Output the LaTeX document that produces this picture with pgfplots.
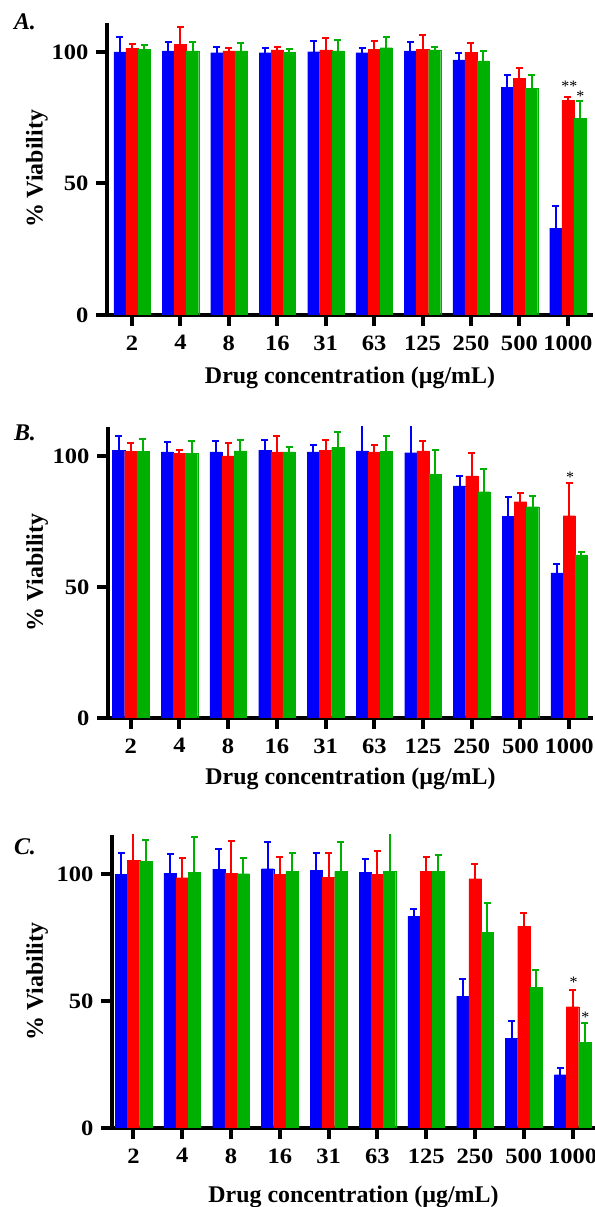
\documentclass[border=0pt]{standalone}
\usepackage{fontspec}
\setmainfont{Liberation Serif}
\newfontfamily\tickfont[FakeStretch=1.12]{Liberation Serif}
\usepackage{pgfplots}
\usepackage{pgfplotstable}
\pgfplotsset{compat=1.18}
\definecolor{cb}{RGB}{0,0,250}
\definecolor{cr}{RGB}{255,0,0}
\definecolor{cg}{RGB}{0,176,0}

\pgfplotstableread{
x b eb r er g eg
1 100.0 5.8 101.4 1.5 101.0 1.7
2 100.4 3.5 102.9 6.7 100.4 3.5
3 99.7 2.3 100.4 1.2 100.4 2.9
4 99.7 1.7 100.8 1.2 99.9 1.4
5 100.1 4.1 100.8 4.4 100.4 4.2
6 99.7 1.7 101.0 3.2 101.6 4.0
7 100.4 3.3 101.1 5.2 100.8 1.2
8 97.0 2.5 99.9 3.6 96.6 3.8
9 86.6 4.5 89.9 3.9 86.2 4.9
10 33.0 8.4 81.7 1.1 74.8 6.6
}\dataA

\pgfplotstableread{
x b eb r er g eg
1 102.2 5.3 101.8 3.2 101.8 4.8
2 101.5 3.8 100.9 1.5 100.9 4.7
3 101.5 4.1 100.0 5.0 101.9 4.3
4 102.2 3.8 101.5 6.0 101.5 1.9
5 101.5 2.8 102.2 4.0 103.2 5.9
6 101.9 12.0 101.5 2.8 101.8 5.8
7 101.2 12.0 101.9 3.8 92.9 9.3
8 88.5 3.9 92.4 8.5 86.3 8.5
9 77.0 7.4 82.5 3.5 80.6 4.2
10 55.4 3.4 77.2 12.5 62.2 1.2
}\dataB

\pgfplotstableread{
x b eb r er g eg
1 100.0 8.5 105.5 14.0 105.1 8.5
2 100.5 7.6 98.7 7.9 100.9 13.8
3 102.0 8.1 100.5 12.6 100.3 6.3
4 102.2 10.5 100.0 6.7 101.2 7.2
5 101.6 6.9 98.9 9.5 101.2 11.5
6 100.9 5.3 100.0 9.0 101.2 16.0
7 83.5 2.7 101.2 5.5 101.3 6.3
8 52.0 6.7 98.3 5.9 77.1 11.6
9 35.4 6.9 79.6 5.3 55.4 6.8
10 21.0 2.8 47.8 6.6 33.7 7.6
}\dataC

\pgfplotsset{
  panel/.style={
    scale only axis, anchor=south west,
    clip mode=individual,
    ybar=0pt, bar width=0.25,
    ymin=0,
    axis x line*=bottom, axis y line*=left,
    axis line style={-, line width=4bp, black},
    xtick={1,2,3,4,5,6,7,8,9,10},
    xticklabels={2,4,8,16,31,63,125,250,500,1000},
    ytick={0,50,100}, yticklabels={0,50,100},
    minor tick num=0,
    xtick pos=left, ytick pos=left,
    tick align=outside,
    major tick length=11bp,
    every tick/.style={line width=4bp, black},
    major tick style={line width=4bp, black},
    tick label style={font=\tickfont\fontsize{22}{26}\selectfont\bfseries},
    xticklabel style={yshift=-6bp},
    yticklabel style={xshift=-4bp},
    label style={font=\fontsize{24}{28}\selectfont\bfseries},
    xlabel={Drug concentration (µg/mL)},
    ylabel={\% Viability},
  },
  bars/.style={fill=#1, draw=#1, line width=0.1bp,
    error bars/.cd, y dir=plus, y explicit,
    error bar style={line width=2bp, #1, solid},
    error mark options={rotate=90, line width=2bp, mark size=3.5bp, #1}},
}
\tikzset{sigstar/.style={font=\fontsize{16}{16}\selectfont, inner sep=0pt}}

\begin{document}
\begin{tikzpicture}
\useasboundingbox (0,0) rectangle (595bp,1207bp);

\node[font=\fontsize{24}{26}\selectfont\bfseries\itshape] at (25bp,1185bp) {A.};
\node[font=\fontsize{24}{26}\selectfont\bfseries\itshape] at (25bp,774bp) {B.};
\node[font=\fontsize{24}{26}\selectfont\bfseries\itshape] at (25bp,360bp) {C.};

\begin{axis}[panel, at={(107bp,892bp)}, width=486bp, height=292bp,
  xmin=0.483, xmax=10.52, ymax=111,
  xlabel style={at={(axis description cs:0.5,-0.215)}, anchor=center},
  ylabel style={at={(axis description cs:-0.144,0.5)}, anchor=center}]
\addplot[bars=cb] table[x=x, y=b, y error=eb] {\dataA};
\addplot[bars=cr] table[x=x, y=r, y error=er] {\dataA};
\addplot[bars=cg] table[x=x, y=g, y error=eg] {\dataA};
\node[sigstar] at (axis cs:10.03,86.8) {**};
\node[sigstar] at (axis cs:10.26,83.0) {*};
\end{axis}

\begin{axis}[panel, at={(108bp,489bp)}, width=485bp, height=291bp,
  xmin=0.534, xmax=10.49, ymax=111,
  xlabel style={at={(axis description cs:0.5,-0.21)}, anchor=center},
  ylabel style={at={(axis description cs:-0.146,0.5)}, anchor=center}]
\addplot[bars=cb] table[x=x, y=b, y error=eb] {\dataB};
\addplot[bars=cr] table[x=x, y=r, y error=er] {\dataB};
\addplot[bars=cg] table[x=x, y=g, y error=eg] {\dataB};
\node[sigstar] at (axis cs:10.02,91.8) {*};
\end{axis}

\begin{axis}[panel, at={(112bp,79bp)}, width=483bp, height=293bp,
  xmin=0.56, xmax=10.46, ymax=115.5,
  xlabel style={at={(axis description cs:0.5,-0.235)}, anchor=center},
  ylabel style={at={(axis description cs:-0.155,0.5)}, anchor=center}]
\addplot[bars=cb] table[x=x, y=b, y error=eb] {\dataC};
\addplot[bars=cr] table[x=x, y=r, y error=er] {\dataC};
\addplot[bars=cg] table[x=x, y=g, y error=eg] {\dataC};
\node[sigstar] at (axis cs:10.02,57.6) {*};
\node[sigstar] at (axis cs:10.26,43.5) {*};
\end{axis}
\end{tikzpicture}
\end{document}
